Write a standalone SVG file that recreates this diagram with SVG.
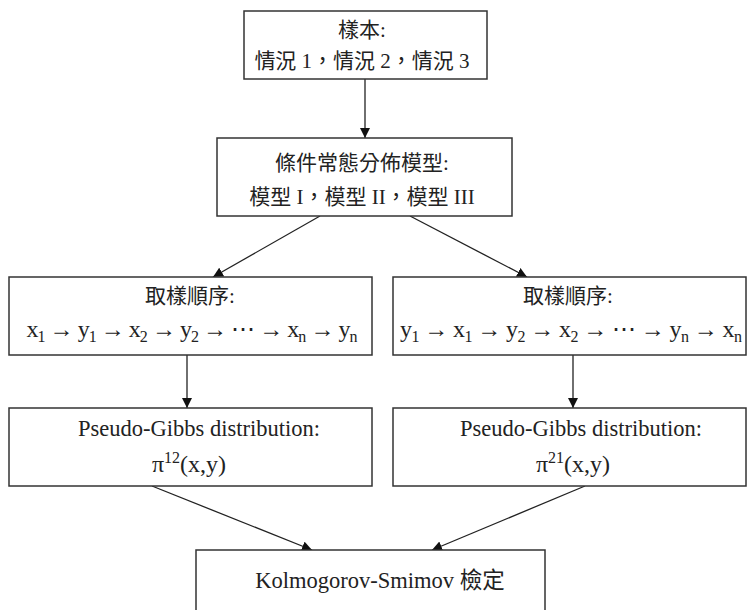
<svg xmlns="http://www.w3.org/2000/svg" width="747" height="610" viewBox="0 0 747 610">
<style>
.box{fill:#fff;stroke:#333;stroke-width:1.5}
.t{font-family:"Liberation Serif","Noto Sans CJK TC",serif;font-size:21px;fill:#222;text-anchor:middle}
.l{font-family:"Liberation Serif","Noto Sans CJK TC",serif;font-size:22.5px;fill:#222;text-anchor:middle}
.m{font-family:"Liberation Serif","DejaVu Serif",serif;font-size:24px;fill:#222;text-anchor:middle}
.sub{font-size:16px}
.edge{stroke:#222;stroke-width:1.3;fill:none;marker-end:url(#ah)}
</style>
<defs>
<marker id="ah" viewBox="0 0 10 10" refX="10" refY="5" markerWidth="10" markerHeight="10" markerUnits="userSpaceOnUse" orient="auto">
<path d="M0,0 L10,5 L0,10 z" fill="#111"/>
</marker>
</defs>
<rect width="747" height="610" fill="#fff"/>
<g id="connectors">
<line class="edge" x1="365" y1="79" x2="365" y2="138"/>
<line class="edge" x1="320" y1="216" x2="213" y2="277"/>
<line class="edge" x1="410" y1="216" x2="527" y2="277"/>
<line class="edge" x1="187" y1="355" x2="187" y2="408"/>
<line class="edge" x1="573" y1="355" x2="573" y2="408"/>
<line class="edge" x1="152" y1="486" x2="312" y2="550"/>
<line class="edge" x1="585" y1="486" x2="432" y2="550"/>
</g>
<g id="n1">
<rect class="box" x="244" y="11" width="243" height="68"/>
<text class="t" x="362" y="37">樣本:</text>
<text class="t" x="362" y="68">情況 1，情況 2，情況 3</text>
</g>
<g id="n2">
<rect class="box" x="217" y="138" width="295" height="78"/>
<text class="t" x="362" y="170">條件常態分佈模型:</text>
<text class="t" x="362" y="204">模型 I，模型 II，模型 III</text>
</g>
<g id="n3">
<rect class="box" x="9" y="277" width="363" height="78"/>
<text class="t" x="190" y="303">取樣順序:</text>
<text class="m" x="192" y="337" textLength="331" lengthAdjust="spacing">x<tspan class="sub" dy="5">1</tspan><tspan dy="-5"> → y</tspan><tspan class="sub" dy="5">1</tspan><tspan dy="-5"> → x</tspan><tspan class="sub" dy="5">2</tspan><tspan dy="-5"> → y</tspan><tspan class="sub" dy="5">2</tspan><tspan dy="-5"> → ⋯ → x</tspan><tspan class="sub" dy="5">n</tspan><tspan dy="-5"> → y</tspan><tspan class="sub" dy="5">n</tspan></text>
</g>
<g id="n4">
<rect class="box" x="393" y="277" width="353" height="78"/>
<text class="t" x="568" y="303">取樣順序:</text>
<text class="m" x="571" y="337" textLength="342" lengthAdjust="spacing">y<tspan class="sub" dy="5">1</tspan><tspan dy="-5"> → x</tspan><tspan class="sub" dy="5">1</tspan><tspan dy="-5"> → y</tspan><tspan class="sub" dy="5">2</tspan><tspan dy="-5"> → x</tspan><tspan class="sub" dy="5">2</tspan><tspan dy="-5"> → ⋯ → y</tspan><tspan class="sub" dy="5">n</tspan><tspan dy="-5"> → x</tspan><tspan class="sub" dy="5">n</tspan></text>
</g>
<g id="n5">
<rect class="box" x="9" y="408" width="363" height="78"/>
<text class="l" x="199" y="436">Pseudo-Gibbs distribution:</text>
<text class="m" x="189" y="472">π<tspan class="sub" dy="-9">12</tspan><tspan dy="9">(x,y)</tspan></text>
</g>
<g id="n6">
<rect class="box" x="393" y="408" width="353" height="78"/>
<text class="l" x="581" y="436">Pseudo-Gibbs distribution:</text>
<text class="m" x="573" y="472">π<tspan class="sub" dy="-9">21</tspan><tspan dy="9">(x,y)</tspan></text>
</g>
<g id="n7">
<rect class="box" x="196" y="550" width="349" height="70"/>
<text class="l" x="380" y="588">Kolmogorov-Smimov 檢定</text>
</g>
</svg>
